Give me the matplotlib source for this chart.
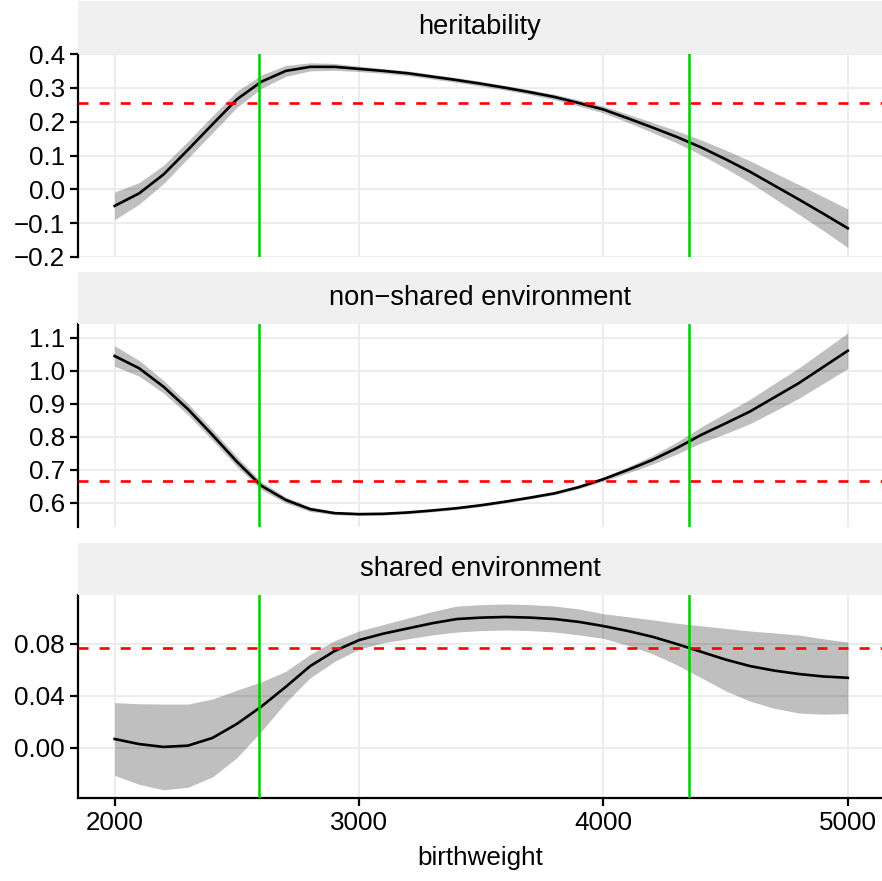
import matplotlib
matplotlib.use("Agg")
import matplotlib.pyplot as plt

plt.rcParams['font.family'] = ['Liberation Sans', 'DejaVu Sans']

birthweight = [2000, 2100, 2200, 2300, 2400, 2500, 2600, 2700, 2800, 2900,
               3000, 3100, 3200, 3300, 3400, 3500, 3600, 3700, 3800, 3900,
               4000, 4100, 4200, 4300, 4400, 4500, 4600, 4700, 4800, 4900, 5000]

panel_titles = ["heritability", "non\u2212shared environment", "shared environment"]

herit_mean = [-0.049, -0.012, 0.044, 0.117, 0.192, 0.266, 0.318, 0.350, 0.362, 0.362,
              0.356, 0.350, 0.343, 0.333, 0.323, 0.312, 0.300, 0.287, 0.273, 0.255,
              0.236, 0.210, 0.183, 0.155, 0.124, 0.089, 0.052, 0.011, -0.030, -0.072, -0.115]
herit_se = [0.041, 0.032, 0.027, 0.025, 0.025, 0.024, 0.020, 0.016, 0.012, 0.010,
            0.008, 0.007, 0.007, 0.007, 0.007, 0.007, 0.007, 0.007, 0.008, 0.009,
            0.010, 0.012, 0.015, 0.018, 0.022, 0.027, 0.032, 0.038, 0.044, 0.050, 0.057]

nonshared_mean = [1.045, 1.008, 0.952, 0.884, 0.806, 0.725, 0.652, 0.609, 0.581, 0.569,
                  0.566, 0.567, 0.571, 0.577, 0.584, 0.593, 0.604, 0.616, 0.629, 0.648,
                  0.672, 0.700, 0.730, 0.766, 0.806, 0.841, 0.877, 0.920, 0.963, 1.012, 1.061]
nonshared_se = [0.031, 0.024, 0.019, 0.017, 0.016, 0.015, 0.012, 0.009, 0.007, 0.005,
                0.004, 0.004, 0.004, 0.004, 0.004, 0.004, 0.004, 0.004, 0.004, 0.005,
                0.006, 0.009, 0.013, 0.018, 0.024, 0.031, 0.037, 0.042, 0.046, 0.050, 0.054]

shared_mean = [0.0069, 0.0030, 0.0008, 0.0018, 0.0077, 0.0185, 0.0318, 0.0470, 0.0630, 0.0746,
               0.0830, 0.0880, 0.0920, 0.0960, 0.0992, 0.1003, 0.1008, 0.1003, 0.0992, 0.0970,
               0.0938, 0.0900, 0.0856, 0.0800, 0.0740, 0.0680, 0.0630, 0.0595, 0.0569, 0.0550, 0.0540]
shared_se = [0.028, 0.031, 0.033, 0.032, 0.030, 0.026, 0.019, 0.012, 0.009, 0.008,
             0.007, 0.007, 0.008, 0.009, 0.010, 0.010, 0.010, 0.010, 0.010, 0.010,
             0.0095, 0.011, 0.013, 0.016, 0.020, 0.024, 0.027, 0.029, 0.030, 0.029, 0.0275]

ref_lines = [0.2555, 0.667, 0.0772]
cutoffs = [2590, 4350]

y_ticks = [[-0.2, -0.1, 0.0, 0.1, 0.2, 0.3, 0.4],
           [0.6, 0.7, 0.8, 0.9, 1.0, 1.1],
           [0.00, 0.04, 0.08]]
y_fmt = ["{:.1f}", "{:.1f}", "{:.2f}"]
y_lims = [(-0.2, 0.4), (0.527, 1.142), (-0.0385, 0.1177)]
x_ticks = [2000, 3000, 4000, 5000]

means = [herit_mean, nonshared_mean, shared_mean]
ses = [herit_se, nonshared_se, shared_se]

W, H = 882, 881
fig = plt.figure(figsize=(W / 100, H / 100), dpi=100)

left_px, right_px = 78, 882
panel_tops = [54, 324, 595]
panel_h = 203
strip_tops = [1, 272, 543]
strip_h = [53, 52, 52]
FS = 18.7
FS_STRIP = 19.6
grid_col = "#EBEBEB"

for i in range(3):
    ax = fig.add_axes([left_px / W, 1 - (panel_tops[i] + panel_h) / H,
                       (right_px - left_px) / W, panel_h / H])
    sax = fig.add_axes([left_px / W, 1 - (strip_tops[i] + strip_h[i]) / H,
                        (right_px - left_px) / W, strip_h[i] / H])
    sax.set_facecolor("#F0F0F0")
    sax.set_xticks([]); sax.set_yticks([])
    for s in sax.spines.values():
        s.set_visible(False)
    sax.text(0.5, 0.5, panel_titles[i], ha="center", va="center", fontsize=FS_STRIP,
             transform=sax.transAxes)

    m = means[i]; se = ses[i]
    lo = [a - b for a, b in zip(m, se)]
    hi = [a + b for a, b in zip(m, se)]
    ax.fill_between(birthweight, lo, hi, color="black", alpha=0.25, linewidth=0, zorder=2)
    ax.plot(birthweight, m, color="black", lw=1.9, zorder=3)
    ax.axhline(ref_lines[i], color="#FF0000", lw=1.9, linestyle=(0, (3.8, 4.2)), zorder=4)
    for c in cutoffs:
        ax.axvline(c, color="#00CD00", lw=1.8, zorder=5)

    ax.set_xlim(1850, 5140)
    ax.set_ylim(*y_lims[i])
    ax.set_yticks(y_ticks[i])
    ax.set_yticklabels([y_fmt[i].format(v).replace("-", "\u2212") for v in y_ticks[i]])
    ax.set_xticks(x_ticks)
    ax.grid(True, color=grid_col, lw=1.3, zorder=0)
    ax.set_axisbelow(True)
    for s in ["top", "right"]:
        ax.spines[s].set_visible(False)
    ax.spines["left"].set_linewidth(1.6)
    ax.tick_params(axis="y", length=5.5, width=1.6, pad=4, labelsize=FS, direction="out")
    if i < 2:
        ax.spines["bottom"].set_visible(False)
        ax.tick_params(axis="x", length=0, labelbottom=False)
    else:
        ax.spines["bottom"].set_linewidth(1.6)
        ax.tick_params(axis="x", length=5.5, width=1.6, pad=4, labelsize=FS, direction="out")
        ax.set_xticklabels([str(v) for v in x_ticks])
        ax.set_xlabel("birthweight", fontsize=FS, labelpad=8)

fig.savefig("out.png", dpi=100)
